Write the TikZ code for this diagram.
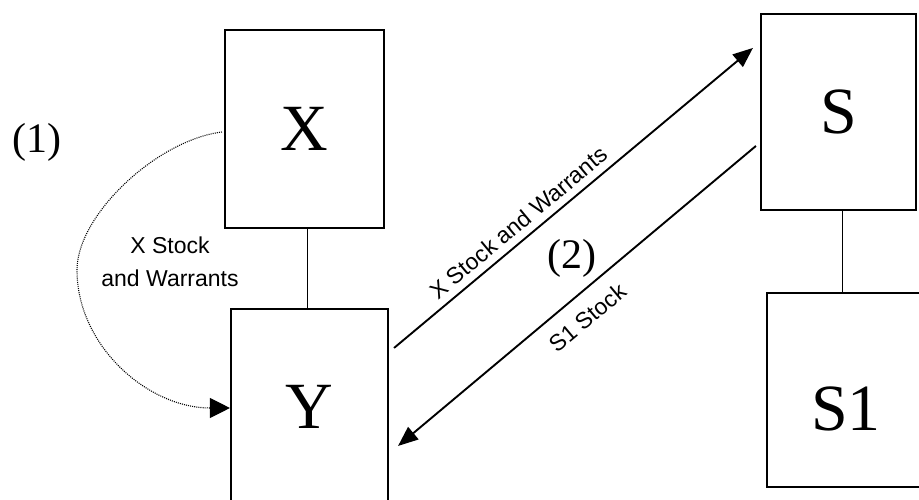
\documentclass[tikz,border=0pt]{standalone}
\usepackage{fontspec}
\setmainfont{Liberation Serif}
\newfontfamily\lblfont{Liberation Sans}
\usetikzlibrary{arrows.meta,calc}
\begin{document}
\begin{tikzpicture}[x=1pt,y=-1pt,
  box/.style={draw, line width=2.1pt, rectangle, inner sep=0pt, font=\fontsize{66}{66}\selectfont},
  link/.style={line width=1.9pt},
  flow/.style={line width=1.9pt, -{Triangle[length=20pt,width=16pt]}},
  dotflow/.style={line width=1.1pt, dash pattern=on 1pt off 1.1pt, -{Triangle[length=20pt,width=20pt]}},
  lbl/.style={font=\lblfont\fontsize{23}{33}\selectfont, inner sep=0pt},
  num/.style={font=\fontsize{42}{42}\selectfont, inner sep=0pt}]
\useasboundingbox (0,0) rectangle (919,500);
\clip (0,0) rectangle (919,500);
\node[box, minimum width=159pt, minimum height=198pt] (xb) at (304.5,129) {X};
\node[box, minimum width=157pt, minimum height=196pt] (yb) at (309.5,407) {Y};
\node[box, minimum width=155pt, minimum height=196pt] (sb) at (838.5,112) {S};
\node[box, minimum width=158pt, minimum height=194pt, text height=80pt, text depth=0pt] (s1b) at (846,390) {S1};
% tree links
\coordinate (xl) at ($(xb.south)+(3,0)$);
\coordinate (sl) at ($(sb.south)+(4,0)$);
\draw[link] (xl) -- (xl |- yb.north);
\draw[link] (sl) -- (sl |- s1b.north);
% exchange arrows
\draw[flow] ($(yb.north east)+(5,40)$) -- ($(sb.north west)+(-7,35)$)
  node[lbl, sloped, pos=0.376, above=7pt] (ulbl) {X Stock and Warrants};
\draw[flow] ($(sb.north west)+(-4,133)$) -- ($(yb.north east)+(9,138)$)
  node[lbl, sloped, pos=0.513, below=14pt] (llbl) {S1 Stock};
% dotted transfer
\draw[dotflow] ($(xb.west)+(-2,3)$) .. controls +(-65,8) and +(0,-55) .. (77,270)
  .. controls +(0,76) and +(-82,0) .. ($(yb.west)+(0,1)$);
% labels
\node[num] (n1) at (37,142) {(1)};
\node[num] (n2) at (572,258) {(2)};
\node[lbl, align=center] (l1) at (170,262) {X Stock\\and Warrants};
\end{tikzpicture}
\end{document}
